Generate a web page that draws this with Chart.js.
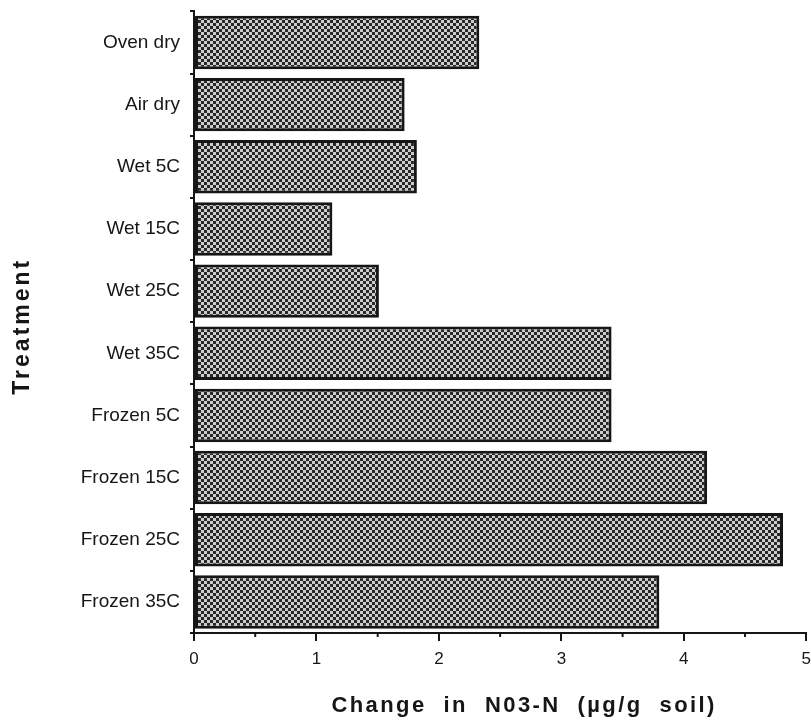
<!DOCTYPE html>
<html lang="en">
<head>
  <meta charset="utf-8">
  <title>Change in NO3-N by treatment</title>
  <script src="https://cdn.jsdelivr.net/npm/chart.js@4.4.1/dist/chart.umd.min.js"></script>
  <style>
    html, body { margin: 0; padding: 0; background: #fff; overflow: hidden; }
    /* a little larger than the window so the frame sits flush top and right */
    #wrap { width: 819px; height: 733px; margin-top: -10px; position: relative; }
  </style>
</head>
<body>
  <div id="wrap">
    <canvas id="no3_chart"></canvas>
  </div>

  <script>
    // treatments, top to bottom
    var treatments = ['Oven dry', 'Air dry', 'Wet 5C', 'Wet 15C', 'Wet 25C',
                      'Wet 35C', 'Frozen 5C', 'Frozen 15C', 'Frozen 25C', 'Frozen 35C'];
    // change in NO3-N, ug/g soil
    var no3Change = [2.33, 1.72, 1.82, 1.13, 1.51, 3.41, 3.41, 4.19, 4.81, 3.80];
    var xTickValues = [0, 1, 2, 3, 4, 5];
    var xTitle = 'Change  in  N03-N  (\u00b5g/g  soil)';
    var yTitle = 'Treatment';

    var FONT = '"Liberation Sans", Arial, Helvetica, sans-serif';
    var INK = '#161616';

    // checkered halftone fill for the bars
    function makeChecker() {
      var c = document.createElement('canvas');
      c.width = 6; c.height = 6;
      var g = c.getContext('2d');
      g.fillStyle = '#cccccc';
      g.fillRect(0, 0, 6, 6);
      g.fillStyle = '#282828';
      g.fillRect(0, 0, 3, 3);
      g.fillRect(3, 3, 3, 3);
      return g.createPattern(c, 'repeat');
    }

    // small half-unit ticks under the x axis
    var minorTicks = {
      id: 'minorTicks',
      afterDraw: function(chart) {
        var x = chart.scales.x, ctx = chart.ctx;
        var y0 = chart.chartArea.bottom;
        ctx.save();
        ctx.strokeStyle = INK;
        ctx.lineWidth = 2;
        for (var i = 0; i < xTickValues.length - 1; i++) {
          var px = x.getPixelForValue(xTickValues[i] + 0.5);
          ctx.beginPath();
          ctx.moveTo(px, y0);
          ctx.lineTo(px, y0 + 4);
          ctx.stroke();
        }
        ctx.restore();
      }
    };

    // spaced-out bold axis titles
    var axisTitles = {
      id: 'axisTitles',
      afterDraw: function(chart) {
        var ctx = chart.ctx, area = chart.chartArea;
        ctx.save();
        ctx.fillStyle = INK;
        ctx.font = 'bold 22px ' + FONT;
        ctx.letterSpacing = '2.4px';
        ctx.textAlign = 'center';
        ctx.textBaseline = 'middle';
        ctx.fillText(xTitle, (area.left + area.right) / 2 + 24, chart.height - 17);
        ctx.font = 'bold 23px ' + FONT;
        ctx.letterSpacing = '3px';
        ctx.translate(23, (area.top + area.bottom) / 2 + 4);
        ctx.rotate(-Math.PI / 2);
        ctx.fillText(yTitle, 0, 0);
        ctx.restore();
      }
    };

    var ctx = document.getElementById('no3_chart');
    var chart = new Chart(ctx, {
      type: 'bar',
      data: {
        labels: treatments,
        datasets: [{
          data: no3Change,
          backgroundColor: makeChecker(),
          borderColor: INK,
          borderWidth: 3,
          borderSkipped: false,
          categoryPercentage: 1.0,
          barPercentage: 0.86
        }]
      },
      options: {
        indexAxis: 'y',
        responsive: true,
        maintainAspectRatio: false,
        animation: false,
        layout: { padding: { left: 0, right: 0, top: 0, bottom: 50 } },
        plugins: {
          legend: { display: false },
          tooltip: { enabled: false }
        },
        scales: {
          x: {
            min: 0,
            max: 5,
            afterBuildTicks: function(s) {
              s.ticks = xTickValues.map(function(v) { return { value: v }; });
            },
            afterFit: function(s) { s.height = 40; },
            border: { color: INK, width: 2 },
            grid: { drawOnChartArea: false, color: INK, lineWidth: 2, tickLength: 8 },
            ticks: { color: INK, font: { family: FONT, size: 17 }, padding: 8, maxRotation: 0 }
          },
          y: {
            afterFit: function(s) { s.width = 194; },
            border: { color: INK, width: 2 },
            grid: { offset: true, drawOnChartArea: false, color: INK, lineWidth: 2, tickLength: 4 },
            ticks: { color: INK, font: { family: FONT, size: 19 }, padding: 10 }
          }
        }
      },
      plugins: [minorTicks, axisTitles]
    });
  </script>
</body>
</html>
